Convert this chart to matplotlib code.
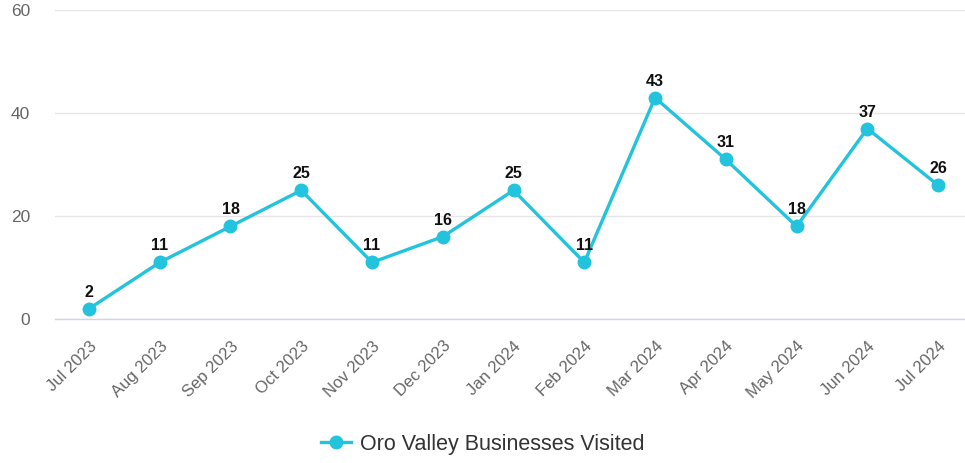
import matplotlib
matplotlib.use("Agg")
import matplotlib.pyplot as plt
from matplotlib.lines import Line2D

plt.rcParams['font.family'] = ['Liberation Sans', 'DejaVu Sans']

MONTHS = ['Jul 2023', 'Aug 2023', 'Sep 2023', 'Oct 2023', 'Nov 2023', 'Dec 2023',
          'Jan 2024', 'Feb 2024', 'Mar 2024', 'Apr 2024', 'May 2024', 'Jun 2024', 'Jul 2024']
VISITED = [2, 11, 18, 25, 11, 16, 25, 11, 43, 31, 18, 37, 26]
Y_TICKS = [0, 20, 40, 60]
LINE_COLOR = '#22c3dc'

fig = plt.figure(figsize=(9.65, 4.63), dpi=100)
ax = fig.add_axes([0.057, 0.311, 0.943, 0.667])

x = list(range(len(MONTHS)))
ax.plot(x, VISITED, color=LINE_COLOR, lw=2.4, marker='o', ms=9, zorder=3)
for xi, v in zip(x, VISITED):
    ax.annotate(str(v), (xi, v), xytext=(0, 6.5), textcoords='offset points',
                ha='center', va='bottom', fontsize=11.5, fontweight='bold', color='#111111')

ax.set_ylim(0, 60)
ax.set_xlim(-0.48, 12.38)
ax.set_yticks(Y_TICKS)
ax.set_xticks(x)
ax.set_xticklabels(MONTHS, rotation=45, ha='right', rotation_mode='anchor',
                   fontsize=12, color='#666666')
for lbl in ax.get_yticklabels():
    lbl.set_fontsize(12.5)
    lbl.set_color('#666666')
ax.tick_params(axis='both', length=0)
ax.tick_params(axis='y', pad=18)
ax.tick_params(axis='x', pad=14)
ax.grid(axis='y', color='#e6e6e6', lw=1)
ax.set_axisbelow(True)
for s in ax.spines.values():
    s.set_visible(False)
ax.axhline(0, color='#ccd6eb', lw=1, zorder=1)
for line in ax.lines:
    line.set_clip_on(False)

handle = Line2D([], [], color=LINE_COLOR, lw=2.4, marker='o', ms=9)
fig.legend([handle], ['Oro Valley Businesses Visited'], loc='center',
           bbox_to_anchor=(0.5, 0.04), frameon=False, fontsize=15.5,
           labelcolor='#333333', handlelength=1.4, handletextpad=0.4)

fig.savefig('out.png', dpi=100)
